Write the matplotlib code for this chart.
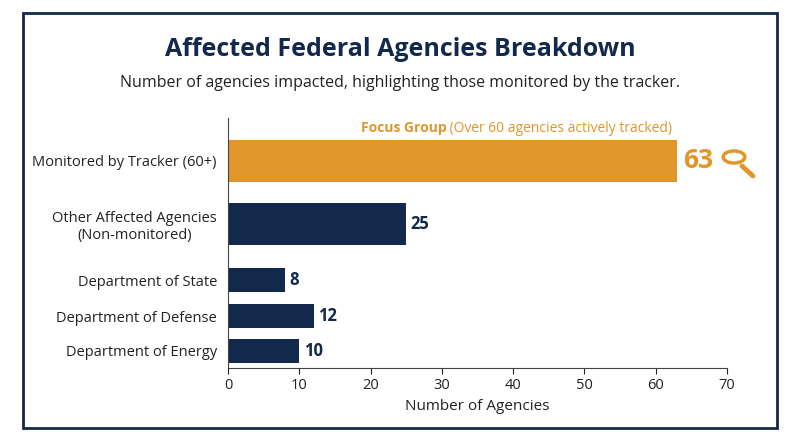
import matplotlib
matplotlib.use("Agg")
import matplotlib.pyplot as plt
from matplotlib.patches import Rectangle, Circle
from matplotlib.lines import Line2D

plt.rcParams['font.family'] = ['Open Sans', 'DejaVu Sans']

categories = ["Monitored by Tracker (60+)", "Other Affected Agencies\n(Non-monitored)",
              "Department of State", "Department of Defense", "Department of Energy"]
values = [63, 25, 8, 12, 10]
xticks = [0, 10, 20, 30, 40, 50, 60, 70]

NAVY = "#13294B"
ORANGE = "#E0962B"
colors = [ORANGE, NAVY, NAVY, NAVY, NAVY]
ypos = [161, 224, 280, 316, 351]
heights = [42, 42, 24, 24, 24]

fig = plt.figure(figsize=(8, 4.47), dpi=100)
fig.patches.append(Rectangle((23/800, 1-428/447), 754/800, 415/447, transform=fig.transFigure,
                             fill=False, edgecolor=NAVY, linewidth=2))
ax = fig.add_axes([228/800, 1-368/447, 499/800, 250/447])
ax.barh(ypos, values, height=heights, color=colors)
ax.set_ylim(368, 118)
ax.set_xlim(0, 70)
ax.set_xticks(xticks)
ax.set_yticks(ypos)
ax.set_yticklabels(categories, fontsize=10.5, color="#222222")
for l in ax.get_yticklabels():
    l.set_horizontalalignment('right')
    l.set_multialignment('center')
ax.tick_params(axis='y', length=0, pad=8)
ax.tick_params(axis='x', labelsize=10.5, colors="#222222", length=4)
ax.set_xlabel("Number of Agencies", fontsize=11, color="#222222")
for s in ['top', 'right']:
    ax.spines[s].set_visible(False)
ax.spines['left'].set_color("#444444")
ax.spines['bottom'].set_color("#444444")

for i, (v, y) in enumerate(zip(values, ypos)):
    if i == 0:
        ax.text(v + 0.8, y, str(v), va='center', ha='left', fontsize=19, fontweight='bold', color=ORANGE)
    else:
        ax.text(v + 0.6, y, str(v), va='center', ha='left', fontsize=12, fontweight='bold', color=NAVY)

bold = ax.text(18.6, 128, "Focus Group", ha='left', va='center', fontsize=10, fontweight='bold', color=ORANGE)
ax.annotate(" (Over 60 agencies actively tracked)", xy=(1, 0.5), xycoords=bold, ha='left', va='center',
            fontsize=10, color=ORANGE)

# magnifier icon
fig.patches.append(Circle((734/800, 1-157/447), 0.0135, transform=fig.transFigure,
                          fill=False, edgecolor=ORANGE, linewidth=2.5))
fig.lines.append(Line2D([742/800, 753/800], [1-166/447, 1-176/447], transform=fig.transFigure,
                        color=ORANGE, linewidth=3.5, solid_capstyle='round'))

fig.text(0.5, 1-50/447, "Affected Federal Agencies Breakdown", ha='center', va='center',
         fontsize=18, fontweight='bold', color=NAVY)
fig.text(0.5, 1-83/447, "Number of agencies impacted, highlighting those monitored by the tracker.",
         ha='center', va='center', fontsize=11.5, color="#222222")

fig.savefig("out.png", dpi=100)
